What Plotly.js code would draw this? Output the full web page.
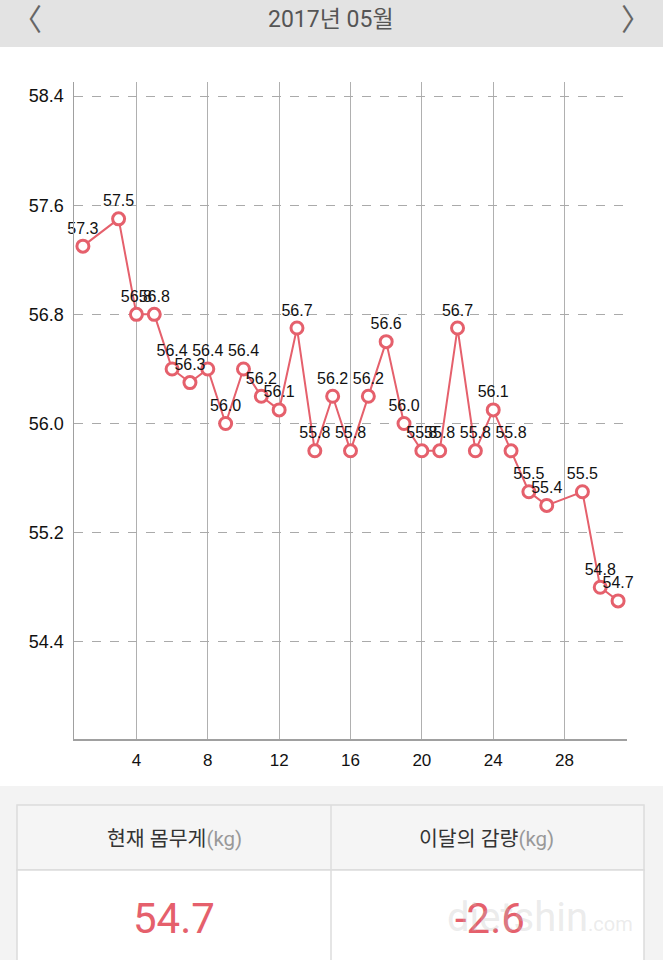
<!DOCTYPE html>
<html><head><meta charset="utf-8">
<script src="https://cdn.plot.ly/plotly-3.0.1.min.js"></script>
<style>html,body{margin:0;padding:0;background:#fff;}#chart{width:663px;height:960px;}</style>
</head><body><div id="chart"></div>
<script>
const days = [1,3,4,5,6,7,8,9,10,11,12,13,14,15,16,17,18,19,20,21,22,23,24,25,26,27,29,30,31];
const weights = [57.3,57.5,56.8,56.8,56.4,56.3,56.4,56.0,56.4,56.2,56.1,56.7,55.8,56.2,55.8,56.2,56.6,56.0,55.8,55.8,56.7,55.8,56.1,55.8,55.5,55.4,55.5,54.8,54.7];
const yTicks = [54.4,55.2,56.0,56.8,57.6,58.4];
const xTicks = [4,8,12,16,20,24,28];
const headerTitle = '2017년 05월';
const summaryLabels = ['현재 몸무게', '이달의 감량'];
const summaryValues = ['54.7', '-2.6'];

const red = '#e5606c';
const uiFont = 'Roboto, "Noto Sans CJK KR", sans-serif';
const chartFont = '"Liberation Sans", Arial, sans-serif';

const trace = {
  x: days, y: weights, type: 'scatter', mode: 'lines+markers+text',
  text: weights.map(v => v.toFixed(1)), textposition: 'top center',
  textfont: {family: chartFont, size: 16, color: '#111'},
  line: {color: red, width: 2},
  marker: {size: 12, color: '#fff', line: {color: red, width: 3}},
  cliponaxis: false, hoverinfo: 'none'
};

const L=74, R=627, T=82, B=739;
function px(x){return (x-L)/(R-L);}
function py(y){return (B-y)/(B-T);}
const shapes = [];
shapes.push({type:'rect', xref:'paper', yref:'paper', x0:px(0), x1:px(663), y0:py(47), y1:py(0), fillcolor:'#e3e3e3', line:{width:0}});
shapes.push({type:'rect', xref:'paper', yref:'paper', x0:px(0), x1:px(663), y0:py(960), y1:py(786), fillcolor:'#f3f3f3', line:{width:0}});
shapes.push({type:'rect', xref:'paper', yref:'paper', x0:px(17), x1:px(644), y0:py(870), y1:py(805), fillcolor:'#f5f5f5', line:{color:'#dcdcdc', width:1.5}});
shapes.push({type:'rect', xref:'paper', yref:'paper', x0:px(17), x1:px(644), y0:py(962), y1:py(870), fillcolor:'#ffffff', line:{color:'#dcdcdc', width:1.5}});
shapes.push({type:'line', xref:'paper', yref:'paper', x0:px(331), x1:px(331), y0:py(962), y1:py(805), line:{color:'#dcdcdc', width:1.5}});

function ann(x, y, text, size, color, family){
  return {xref:'paper', yref:'paper', x:px(x), y:py(y), xanchor:'center', yanchor:'middle', text:text, showarrow:false, font:{family:family||uiFont, size:size, color:color}};
}
const annotations = [
  ann(331, 20, headerTitle, 23, '#555'),
  ann(27, 19, '〈', 30, '#666'),
  ann(636, 19, '〉', 30, '#666'),
  ann(174, 839, summaryLabels[0]+'<span style="color:#999">(kg)</span>', 20.5, '#333'),
  ann(486, 839, summaryLabels[1]+'<span style="color:#999">(kg)</span>', 20.5, '#333'),
  ann(174, 918, summaryValues[0], 42, red),
  ann(490, 918, summaryValues[1], 42, red),
  ann(540, 917, 'dietshin<span style="font-size:20px">.com</span>', 40, 'rgba(190,190,190,0.3)')
];

const layout = {
  width: 663, height: 960,
  margin: {l: L, r: 663-R, t: T, b: 960-B, pad: 0},
  paper_bgcolor: '#fff', plot_bgcolor: '#fff',
  showlegend: false,
  font: {family: chartFont, color: '#111'},
  xaxis: {
    range: [0.5, 31.5], tickvals: xTicks, ticktext: xTicks.map(String),
    showgrid: true, gridcolor: '#b0b0b0', gridwidth: 1,
    showline: true, linecolor: '#a0a0a0', linewidth: 1.5,
    zeroline: false, ticks: '', tickfont: {family: chartFont, size: 17, color: '#111'}, ticklabelstandoff: 5, fixedrange: true
  },
  yaxis: {
    range: [53.688, 58.503], tickvals: yTicks, ticktext: yTicks.map(v => v.toFixed(1)),
    showgrid: true, gridcolor: '#aaaaaa', gridwidth: 1, griddash: 'dash',
    showline: true, linecolor: '#a0a0a0', linewidth: 1.5,
    zeroline: false, ticks: '', tickfont: {family: chartFont, size: 18, color: '#111'}, ticklabelstandoff: 5, fixedrange: true
  },
  shapes: shapes, annotations: annotations
};
Plotly.newPlot('chart', [trace], layout, {staticPlot: true, displayModeBar: false});
</script></body></html>
